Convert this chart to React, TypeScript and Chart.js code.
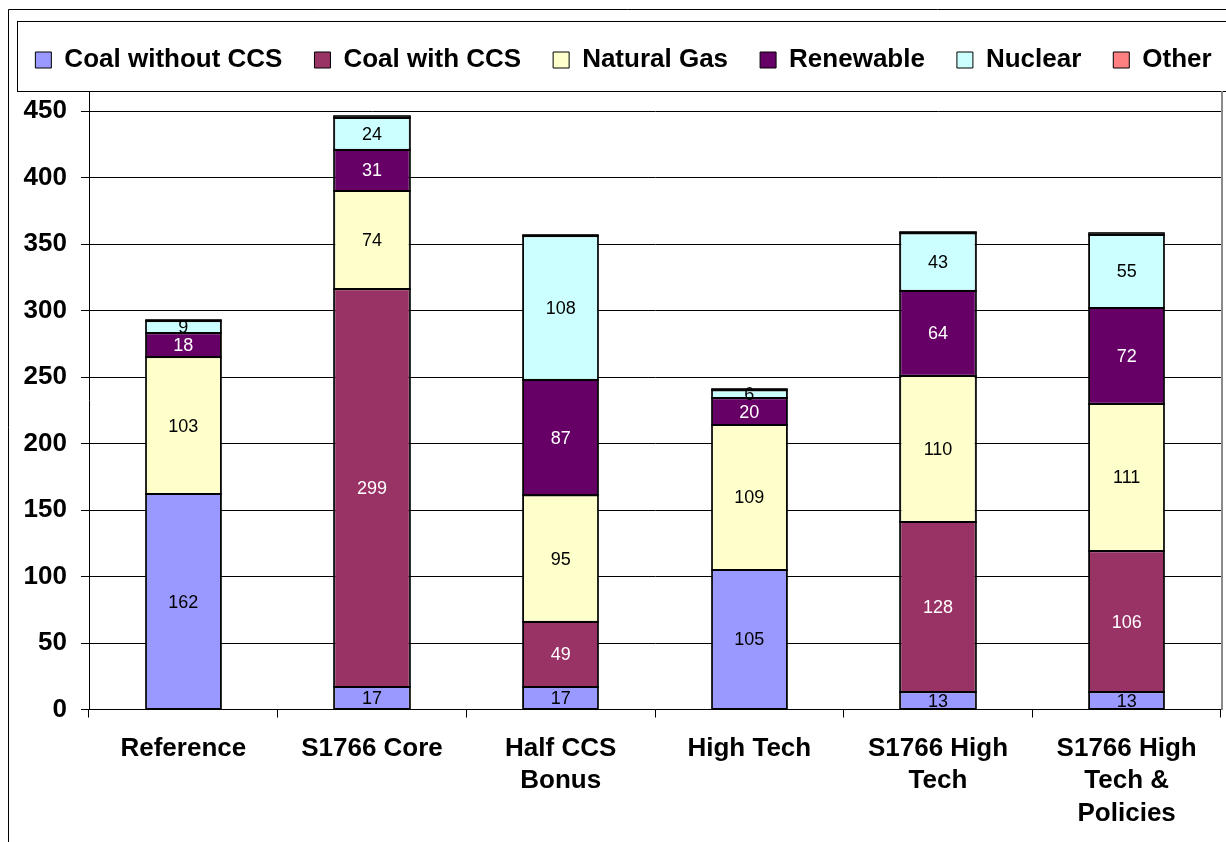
import React, { useEffect, useRef } from "react";
import { Chart, registerables } from "chart.js";

Chart.register(...registerables);

const categories: string[][] = [
  ["Reference"],
  ["S1766 Core"],
  ["Half CCS", "Bonus"],
  ["High Tech"],
  ["S1766 High", "Tech"],
  ["S1766 High", "Tech &", "Policies"],
];

const coalWithoutCCS = [162, 17, 17, 105, 13, 13];
const coalWithCCS = [0, 299, 49, 0, 128, 106];
const naturalGas = [103, 74, 95, 109, 110, 111];
const renewable = [18, 31, 87, 20, 64, 72];
const nuclear = [9, 24, 108, 6, 43, 55];
const other = [1, 1, 1, 1, 1, 1];

const yTickMax = 465;
const yTickStep = 50;

const seriesNames = ["Coal without CCS", "Coal with CCS", "Natural Gas", "Renewable", "Nuclear", "Other"];
const seriesColors = ["#9999FF", "#993366", "#FFFFCC", "#660066", "#CCFFFF", "#FF8080"];
const labelColors = ["#000", "#fff", "#000", "#fff", "#000", null];
const seriesData = [coalWithoutCCS, coalWithCCS, naturalGas, renewable, nuclear, other];

const FONT = "Arial, 'Liberation Sans', Helvetica, sans-serif";

const framePlugin = {
  id: "frame",
  beforeDraw(chart: any) {
    const { ctx, chartArea } = chart;
    ctx.save();
    ctx.fillStyle = "#fff";
    ctx.fillRect(0, 0, chart.width, chart.height);
    ctx.strokeStyle = "#000";
    ctx.lineWidth = 1;
    ctx.beginPath();
    ctx.moveTo(8.5, chart.height);
    ctx.lineTo(8.5, 9.5);
    ctx.lineTo(chart.width, 9.5);
    ctx.stroke();
    const top = Math.round(chartArea.top);
    ctx.strokeRect(17.5, top - 70 + 0.5, chart.width, 70);
    ctx.restore();
  },
  afterDraw(chart: any) {
    const { ctx, chartArea } = chart;
    ctx.save();
    ctx.strokeStyle = "#8a8a8a";
    ctx.lineWidth = 2;
    ctx.beginPath();
    const x = Math.round(chartArea.right) + 1;
    ctx.moveTo(x, Math.round(chartArea.top));
    ctx.lineTo(x, Math.round(chartArea.bottom));
    ctx.stroke();
    ctx.restore();
  },
};

const outlineAndLabelPlugin = {
  id: "valueLabels",
  afterDatasetsDraw(chart: any) {
    const { ctx } = chart;
    ctx.save();
    ctx.strokeStyle = "#000";
    ctx.lineWidth = 1.6;
    chart.data.datasets.forEach((ds: any, di: number) => {
      const meta = chart.getDatasetMeta(di);
      meta.data.forEach((el: any, i: number) => {
        const v = seriesData[di][i];
        if (!v) return;
        const { x, y, base, width } = el.getProps(["x", "y", "base", "width"], true);
        const l = Math.round(x - width / 2);
        const r = Math.round(x + width / 2);
        const t = Math.round(y);
        const b = Math.round(base);
        ctx.strokeRect(l, t, r - l, b - t);
      });
    });
    ctx.font = `18px ${FONT}`;
    ctx.textAlign = "center";
    ctx.textBaseline = "middle";
    chart.data.datasets.forEach((ds: any, di: number) => {
      const color = labelColors[di];
      if (!color) return;
      const meta = chart.getDatasetMeta(di);
      meta.data.forEach((el: any, i: number) => {
        const v = seriesData[di][i];
        if (!v) return;
        const { x, y, base } = el.getProps(["x", "y", "base"], true);
        ctx.fillStyle = color;
        ctx.fillText(String(v), x, (y + base) / 2 + 1);
      });
    });
    ctx.restore();
  },
};

export default function App() {
  const ref = useRef<HTMLCanvasElement | null>(null);

  useEffect(() => {
    if (!ref.current) return;
    Chart.defaults.font.family = FONT;
    Chart.defaults.color = "#000";
    const chart = new Chart(ref.current, {
      type: "bar",
      data: {
        labels: categories as any,
        datasets: seriesNames.map((name, i) => ({
          label: name,
          data: seriesData[i].map((v) => (v === 0 ? null : v)),
          backgroundColor: seriesColors[i],
          borderColor: "#000",
          borderWidth: 1,
          borderSkipped: false,
          categoryPercentage: 1,
          barPercentage: 0.4,
        })),
      },
      options: {
        responsive: false,
        animation: false,
        layout: { padding: { top: 15, left: 0, right: 0, bottom: 0 } },
        plugins: {
          tooltip: { enabled: false },
          title: {
            display: true,
            text: "",
            weight: 500,
            padding: { top: 0, bottom: 7 },
            font: { size: 1, lineHeight: 1.2 },
          } as any,
          legend: {
            position: "top",
            labels: {
              boxWidth: 16,
              boxHeight: 16,
              padding: 32,
              color: "#000",
              font: { size: 26, weight: "bold", family: FONT },
            },
          },
        },
        scales: {
          x: {
            stacked: true,
            grid: {
              display: true,
              drawOnChartArea: false,
              drawTicks: true,
              tickLength: 8,
              color: "#000",
            },
            border: { display: true, color: "#000", width: 1 },
            ticks: {
              color: "#000",
              padding: 15,
              maxRotation: 0,
              autoSkip: false,
              font: { size: 26, weight: "bold", family: FONT, lineHeight: 1.25 },
            },
          },
          y: {
            stacked: true,
            min: 0,
            max: yTickMax,
            afterFit: (s: any) => {
              s.width = 89;
            },
            grid: { color: "#000", tickLength: 8, lineWidth: 1 },
            border: { display: true, color: "#000", width: 1 },
            ticks: {
              stepSize: yTickStep,
              includeBounds: false,
              padding: 14,
              color: "#000",
              font: { size: 26, weight: "bold", family: FONT },
            },
          },
          yR: {
            position: "right",
            display: true,
            grid: { display: false },
            border: { display: false },
            ticks: { display: false },
            afterFit: (s: any) => {
              s.width = 26;
            },
          },
        },
      },
      plugins: [framePlugin, outlineAndLabelPlugin],
    } as any);
    return () => chart.destroy();
  }, []);

  return (
    <div style={{ position: "absolute", left: 0, top: 0, width: 1226, height: 842, overflow: "hidden", background: "#fff" }}>
      <canvas ref={ref} width={1247} height={845} style={{ display: "block", width: 1247, height: 845 }} />
    </div>
  );
}
